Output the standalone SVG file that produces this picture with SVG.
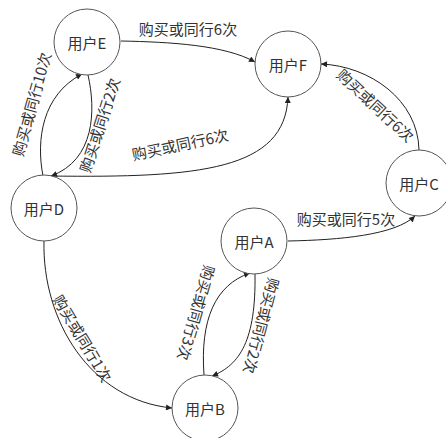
<svg xmlns="http://www.w3.org/2000/svg" width="446" height="438" viewBox="0 0 446 438">
<style>
.node circle{fill:#fff;stroke:#555;stroke-width:1}
.node text{font-family:"Noto Sans CJK SC","Noto Sans",sans-serif;font-size:15px;fill:#333;text-anchor:middle;dominant-baseline:central}
.edges path{fill:none;stroke:#222;stroke-width:1;marker-end:url(#arr)}
.lbl{font-family:"Noto Sans CJK SC","Noto Sans",sans-serif;font-size:15px;fill:#333;text-anchor:middle;dominant-baseline:central}
</style>
<defs>
<marker id="arr" viewBox="0 0 10 10" refX="10" refY="5" markerWidth="8" markerHeight="6" orient="auto" markerUnits="userSpaceOnUse"><path d="M0,0 L10,5 L0,10 z" fill="#222"/></marker>
</defs>
<rect width="446" height="438" fill="#fff"/>
<g class="edges">
<path d="M121,41 C170,42 225,45 255,62"/>
<path d="M43,176 C36,140 42,95 82,74"/>
<path d="M88,75 C96,110 95,160 51,176"/>
<path d="M50,176 C200,178 285,170 288,97"/>
<path d="M419,150 C418,100 370,66 321,64"/>
<path d="M288,241 C340,240 395,235 415,216"/>
<path d="M255,274 C256,340 240,365 212,376"/>
<path d="M204,375 C200,320 215,285 250,273"/>
<path d="M44,241 C42,320 90,400 172,408"/>
</g>
<g id="labels">
<text class="lbl" x="188" y="28">购买或同行6次</text>
<text class="lbl" transform="translate(31,104) rotate(-74.5)">购买或同行10次</text>
<text class="lbl" transform="translate(99,125) rotate(-72)">购买或同行2次</text>
<text class="lbl" transform="translate(180,144) rotate(-12)">购买或同行6次</text>
<text class="lbl" transform="translate(376,105) rotate(43)">购买或同行6次</text>
<text class="lbl" x="346" y="218">购买或同行5次</text>
<text class="lbl" transform="translate(197,313) rotate(106)">购买或同行3次</text>
<text class="lbl" transform="translate(262,326) rotate(105)">购买或同行2次</text>
<text class="lbl" transform="translate(83,338) rotate(59)">购买或同行1次</text>
</g>
<g id="nodeE" class="node"><circle cx="87" cy="42" r="33"/><text x="87" y="42">用户E</text></g>
<g id="nodeF" class="node"><circle cx="288" cy="64" r="33"/><text x="288" y="64">用户F</text></g>
<g id="nodeC" class="node"><circle cx="419" cy="183" r="33"/><text x="419" y="183">用户C</text></g>
<g id="nodeD" class="node"><circle cx="44" cy="208" r="33"/><text x="44" y="208">用户D</text></g>
<g id="nodeA" class="node"><circle cx="254" cy="241" r="33"/><text x="254" y="241">用户A</text></g>
<g id="nodeB" class="node"><circle cx="205" cy="408" r="33"/><text x="205" y="408">用户B</text></g>
</svg>
